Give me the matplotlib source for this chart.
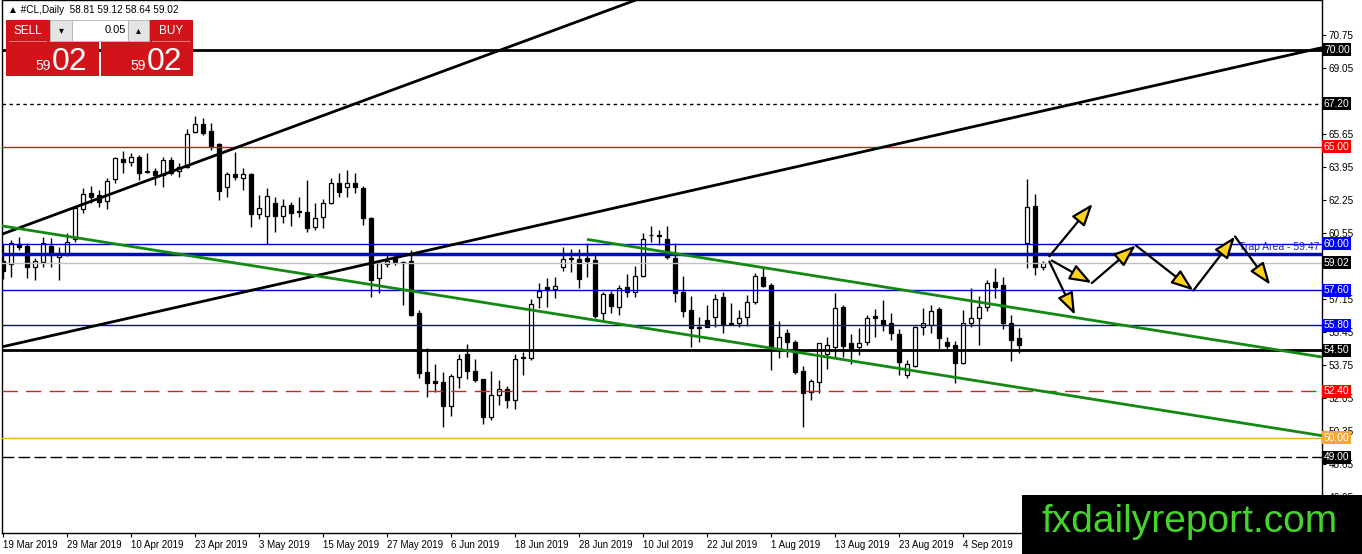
import numpy as np
import matplotlib
matplotlib.use('Agg')
from matplotlib import pyplot as plt
from matplotlib.patches import Rectangle

plt.rcParams['font.family'] = ['Liberation Sans', 'DejaVu Sans']

W, H = 1362, 554

# daily candles, #CL 19 Mar 2019 .. 18 Sep 2019
opens = [59.10, 58.94, 59.98, 59.90, 58.81, 59.07, 59.90, 59.31, 59.47, 60.24,
         61.79, 62.61, 62.51, 62.20, 63.32, 64.38, 64.19, 64.45, 63.74, 63.74,
         63.54, 64.31, 63.76, 63.97, 65.77, 66.16, 65.80, 65.12, 62.90, 63.59,
         63.37, 63.59, 61.53, 61.42, 62.11, 61.42, 61.98, 61.67, 61.62, 60.84,
         61.36, 62.11, 63.11, 62.90, 63.11, 62.85, 61.31, 58.22, 58.95, 59.30,
         59.05, 59.09, 56.44, 53.41, 52.92, 52.86, 51.65, 53.11, 54.32, 53.44,
         53.01, 51.05, 52.20, 52.50, 51.95, 54.10, 54.09, 57.24, 57.75, 57.66,
         58.81, 59.27, 59.19, 59.25, 59.16, 56.44, 57.41, 56.72, 57.75, 57.53,
         58.33, 60.43, 60.43, 60.22, 59.25, 57.53, 56.58, 55.71, 56.07, 56.21,
         57.24, 55.92, 55.90, 56.24, 57.01, 58.30, 57.87, 54.56, 55.38, 54.95,
         53.45, 52.37, 52.89, 54.32, 54.69, 56.75, 54.87, 54.69, 54.95, 56.27,
         56.07, 55.93, 55.35, 53.23, 53.70, 55.69, 55.81, 56.62, 54.95, 54.78,
         53.87, 55.93, 56.15, 56.75, 58.01, 57.87, 55.90, 55.12, 60.02, 61.94,
         58.81]
highs = [60.00, 60.19, 60.36, 60.03, 59.26, 60.36, 60.29, 59.84, 60.55, 61.90,
         62.87, 62.97, 62.76, 63.38, 64.48, 64.77, 64.69, 64.57, 64.66, 63.88,
         64.48, 64.48, 64.14, 65.89, 66.58, 66.46, 66.23, 65.17, 63.71, 64.74,
         63.88, 63.62, 62.51, 62.85, 62.42, 62.28, 62.16, 62.42, 63.28, 62.11,
         62.30, 63.40, 63.66, 63.80, 63.63, 62.97, 61.39, 59.16, 59.50, 59.53,
         59.10, 59.67, 56.58, 54.61, 53.80, 53.41, 53.29, 54.32, 54.83, 54.04,
         53.05, 53.44, 52.97, 52.67, 54.32, 54.43, 57.13, 57.99, 58.22, 58.30,
         59.84, 59.71, 59.71, 60.02, 59.50, 57.53, 57.58, 57.87, 58.43, 58.85,
         60.53, 60.91, 60.70, 60.91, 60.02, 58.33, 57.30, 56.24, 56.84, 57.41,
         57.53, 56.96, 56.58, 57.36, 58.50, 58.73, 57.96, 56.03, 55.59, 55.04,
         53.70, 53.01, 54.90, 55.21, 57.44, 56.84, 55.35, 55.64, 56.32, 56.62,
         57.10, 56.41, 55.59, 54.01, 55.76, 56.67, 56.84, 56.72, 55.21, 55.00,
         56.58, 57.70, 57.30, 58.13, 58.73, 58.30, 56.32, 55.64, 63.32, 62.56,
         59.12]
lows = [58.20, 58.30, 59.67, 58.23, 58.13, 58.81, 58.81, 58.13, 59.38, 60.10,
        61.58, 62.09, 61.89, 61.79, 63.11, 63.66, 64.02, 63.28, 63.63, 63.02,
        62.93, 63.54, 63.42, 63.88, 65.69, 65.60, 64.83, 62.25, 62.42, 63.28,
        62.76, 60.87, 61.26, 59.98, 60.62, 61.05, 60.91, 61.39, 60.62, 60.70,
        60.79, 62.04, 62.42, 62.42, 62.59, 60.96, 57.27, 57.48, 58.81, 58.90,
        56.84, 56.27, 53.06, 52.11, 52.37, 50.57, 51.12, 52.55, 53.01, 52.89,
        50.71, 50.91, 51.69, 51.52, 51.47, 53.23, 54.00, 56.67, 56.72, 57.18,
        58.61, 58.56, 57.73, 58.30, 56.15, 56.03, 56.44, 56.32, 57.27, 57.27,
        58.30, 60.10, 59.93, 59.19, 57.01, 56.21, 54.69, 54.95, 55.69, 55.72,
        55.38, 55.81, 55.69, 55.76, 56.89, 57.75, 53.49, 54.09, 54.15, 53.28,
        50.54, 51.95, 52.32, 53.53, 54.18, 54.15, 53.80, 54.26, 54.78, 55.21,
        55.52, 55.04, 53.23, 53.06, 53.63, 55.30, 55.38, 54.52, 54.52, 52.80,
        53.80, 55.72, 54.78, 56.55, 57.18, 55.59, 53.97, 54.38, 58.73, 58.39,
        58.64]
closes = [58.60, 60.05, 59.84, 58.81, 59.11, 60.03, 59.42, 59.52, 60.10, 61.84,
          62.56, 62.40, 62.16, 63.23, 64.40, 64.21, 64.45, 63.66, 63.68, 63.52,
          64.31, 63.62, 63.93, 65.63, 66.16, 65.72, 65.05, 62.73, 63.59, 63.42,
          63.59, 61.51, 61.82, 62.47, 61.42, 61.94, 61.56, 61.63, 60.79, 61.31,
          62.08, 63.11, 62.68, 63.11, 62.90, 61.31, 58.13, 58.99, 59.11, 59.04,
          58.98, 56.32, 53.35, 52.84, 52.84, 51.65, 53.18, 54.04, 53.44, 52.97,
          51.05, 52.20, 52.50, 51.95, 54.04, 54.14, 56.88, 57.56, 57.66, 57.82,
          59.19, 59.23, 58.16, 59.12, 56.27, 57.41, 56.79, 57.70, 57.53, 58.33,
          60.22, 60.47, 60.39, 59.30, 57.44, 56.55, 55.64, 55.67, 55.72, 57.13,
          55.86, 55.88, 56.15, 57.01, 58.33, 57.82, 54.61, 55.21, 54.95, 53.40,
          52.29, 52.94, 54.87, 54.78, 56.67, 54.73, 54.56, 54.87, 56.15, 56.15,
          55.81, 55.38, 53.92, 53.80, 55.69, 55.90, 56.55, 55.12, 54.73, 53.87,
          55.93, 56.15, 56.75, 57.99, 57.79, 55.90, 55.04, 54.78, 61.87, 58.78,
          59.02]

date_labels = ["19 Mar 2019", "29 Mar 2019", "10 Apr 2019", "23 Apr 2019",
               "3 May 2019", "15 May 2019", "27 May 2019", "6 Jun 2019",
               "18 Jun 2019", "28 Jun 2019", "10 Jul 2019", "22 Jul 2019",
               "1 Aug 2019", "13 Aug 2019", "23 Aug 2019", "4 Sep 2019"]
date_pos = [0, 8, 16, 24, 32, 40, 48, 56, 64, 72, 80, 88, 96, 104, 112, 120]

price_ticks = [70.75, 69.05, 67.35, 65.65, 63.95, 62.25, 60.55, 58.85,
               57.15, 55.45, 53.75, 52.05, 50.35, 48.65, 46.95]
# 67.35 and 58.85 sit fully under the price tags
price_tick_labels = ['70.75', '69.05', '', '65.65', '63.95', '62.25', '60.55', '',
                     '57.15', '55.45', '53.75', '52.05', '50.35', '48.65', '46.95']

# horizontal levels
level_vals = [70.00, 67.20, 65.00, 60.00, 59.47, 59.02, 57.60, 55.80, 54.50, 52.40, 50.00, 49.00]
level_colors = ['black', 'black', '#d01818', '#0000c8', '#0010b0', '#c0c0c0',
                '#0000c8', '#0000c8', 'black', '#e02020', '#f0a830', 'black']
level_widths = [2, 1, 1, 1, 2.5, 1, 1, 1, 2, 1, 1, 1]
level_styles = ['-', (0, (2.5, 2.5)), '-', '-', '-', '-', '-', '-', '-', (0, (11, 6)), '-', (0, (8.5, 3))]

# price labels on the right scale
tag_vals = [70.00, 67.20, 65.00, 60.00, 59.02, 57.60, 55.80, 54.50, 52.40, 50.00, 49.00]
tag_colors = ['black', 'black', '#ff0000', '#0000ff', 'black', '#0000ff', '#0000ff',
              'black', '#ff0000', '#f5a733', 'black']

# trend lines: (bar index, price) pairs
black_line1 = ([-0.375, 85.0], [60.45, 73.45])
black_line2 = ([-0.375, 164.875], [54.66, 70.10])
green_line1 = ([-0.375, 164.875], [60.93, 50.11])
green_line2 = ([73.0, 164.875], [60.22, 54.16])

# scenario arrows
zigzag_x = [131.1, 136.1, 141.6, 148.8, 154.0, 158.4]
zigzag_y = [59.13, 57.97, 59.91, 57.59, 60.37, 57.88]
up_arrow = ((130.8, 59.35), (136.2, 62.05))
down_arrow = ((130.8, 59.08), (134.0, 56.33))

fig = plt.figure(figsize=(W / 100, H / 100), dpi=100)
ax = fig.add_axes([2 / W, (H - 533) / H, 1320 / W, 533 / H])
ax.set_xlim(-0.125, 164.875)
ax.set_ylim(45.094, 72.553)

# candles
x = np.arange(len(opens))
o = np.array(opens)
c = np.array(closes)
up = c >= o
body_lo = np.minimum(o, c)
body_h = np.maximum(np.abs(c - o), 0.04)
ax.vlines(x, lows, highs, color='black', lw=1, zorder=3)
ax.bar(x, body_h, bottom=body_lo, width=0.62,
       color=np.where(up, 'white', 'black'), edgecolor='black', linewidth=0.9, zorder=4)

for v, col, lw, ls in zip(level_vals, level_colors, level_widths, level_styles):
    ax.axhline(v, color=col, lw=lw, linestyle=ls, zorder=5)

for ln in [black_line1, black_line2]:
    ax.plot(ln[0], ln[1], color='black', lw=2, zorder=5, solid_capstyle='butt')
for ln in [green_line1, green_line2]:
    ax.plot(ln[0], ln[1], color='#128a12', lw=2, zorder=5, solid_capstyle='butt')

ax.text(164.6, 59.55, 'Trap Area - 59.47', color='#1a1acc', fontsize=7.5,
        ha='right', va='bottom', zorder=6)

arrow_kw = dict(arrowstyle='-|>,head_length=1.35,head_width=0.5', fc='#ffd21a', ec='black',
                lw=1.6, shrinkA=0, shrinkB=0)
for k in range(len(zigzag_x) - 1):
    ax.annotate('', xy=(zigzag_x[k + 1], zigzag_y[k + 1]), xytext=(zigzag_x[k], zigzag_y[k]),
                arrowprops=arrow_kw, zorder=7)
for a in [up_arrow, down_arrow]:
    ax.annotate('', xy=a[1], xytext=a[0], arrowprops=arrow_kw, zorder=7)

# axes cosmetics
ax.set_xticks(date_pos)
ax.set_xticklabels(date_labels, ha='left', fontsize=7.0)
ax.set_yticks(price_ticks)
ax.set_yticklabels(price_tick_labels, fontsize=7.2)
ax.yaxis.tick_right()
ax.tick_params(axis='x', length=3, pad=2, width=0.8)
ax.tick_params(axis='y', length=3, pad=2, width=0.8)
for sp in ax.spines.values():
    sp.set_linewidth(1)

ytr = ax.get_yaxis_transform()
for v, col in zip(tag_vals, tag_colors):
    ax.text(1.0015, v, '%.2f' % v, transform=ytr, color='white', fontsize=7.4,
            ha='left', va='center', clip_on=False, zorder=8,
            bbox=dict(boxstyle='square,pad=0.15', fc=col, ec='none'))


# header and one-click trading panel (figure pixel coords)
def fx(px):
    return px / W


def fy(py):
    return 1 - py / H


def box(x0, y0, x1, y1, fc, ec='none', lw=0):
    fig.patches.append(Rectangle((fx(x0), fy(y1)), fx(x1) - fx(x0), fy(y0) - fy(y1),
                                 transform=fig.transFigure, fc=fc, ec=ec, lw=lw, zorder=10))


fig.text(fx(8), fy(10), '\u25b2 #CL,Daily  58.81 59.12 58.64 59.02', fontsize=7.2,
         va='center', ha='left', zorder=11)

red = '#d0141a'
box(6, 20, 50, 42, red)
box(149, 20, 193, 42, red)
box(6, 42, 99, 76, red)
box(101, 42, 193, 76, red)
box(50, 20, 72, 41, '#e4e4e4', '#b0b0b0', 0.6)
box(72, 20, 128, 41, 'white', '#b0b0b0', 0.6)
box(128, 20, 149, 41, '#e4e4e4', '#b0b0b0', 0.6)
box(9, 41, 47, 42, '#f08080')
box(152, 41, 190, 42, '#f08080')
fig.text(fx(28), fy(31), 'SELL', color='white', fontsize=8.5, ha='center', va='center', zorder=11)
fig.text(fx(171), fy(31), 'BUY', color='white', fontsize=8.5, ha='center', va='center', zorder=11)
fig.text(fx(126), fy(30), '0.05', color='black', fontsize=8, ha='right', va='center', zorder=11)
fig.text(fx(61), fy(30), '\u25be', color='black', fontsize=7, ha='center', va='center', zorder=11)
fig.text(fx(138), fy(30), '\u25b4', color='black', fontsize=7, ha='center', va='center', zorder=11)
for xs, xb in [(35, 52), (130, 147)]:
    fig.text(fx(xs), fy(70), '59', color='white', fontsize=10, ha='left', va='baseline', zorder=11)
    fig.text(fx(xb), fy(70), '02', color='white', fontsize=23, ha='left', va='baseline', zorder=11)

# watermark
box(1022, 495, 1362, 554, 'black')
fig.text(fx(1190), fy(522), 'fxdailyreport.com', color='#44d42c', fontsize=28,
         ha='center', va='center', zorder=11)

fig.savefig('out.png', dpi=100)
